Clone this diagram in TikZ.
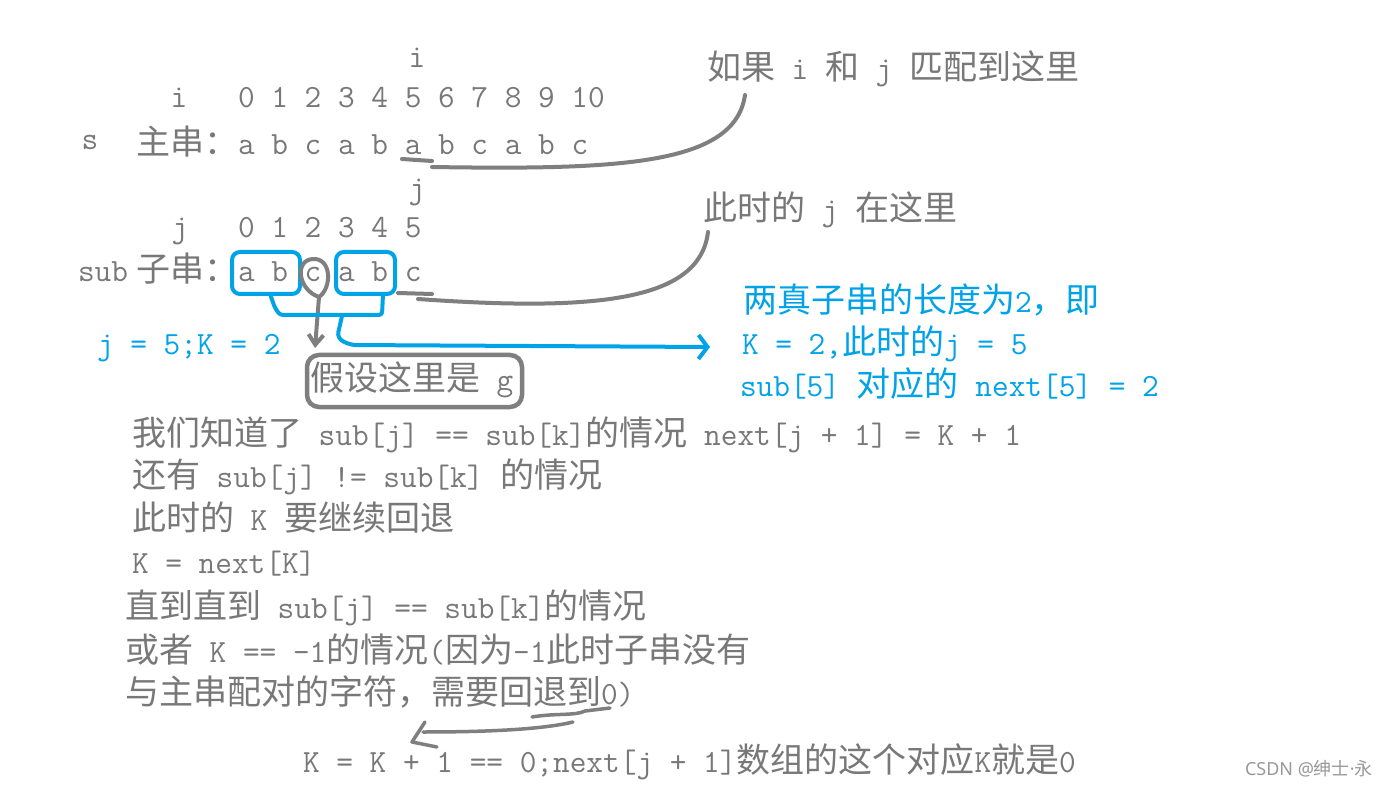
\documentclass[tikz,border=0pt]{standalone}
\usepackage{fontspec}
\usetikzlibrary{arrows.meta}
\newfontfamily\cjkfam{Noto Sans CJK SC}
\newfontfamily\nsans{Noto Sans}
\definecolor{txtgray}{RGB}{120,120,120}
\definecolor{linegray}{RGB}{127,127,127}
\definecolor{pblue}{RGB}{0,162,232}
\newcommand\zh[1]{{\cjkfam\fontsize{34}{40}\selectfont #1}}
\newcommand\latf{\ttfamily\fontsize{32.38}{40}\selectfont\frenchspacing}
\tikzset{
  txt/.style={anchor=base west, inner sep=0pt, outer sep=0pt, text=txtgray, font=\latf},
  btxt/.style={txt, text=pblue},
  gline/.style={draw=linegray, line width=4pt, line cap=round, line join=round},
  bline/.style={draw=pblue, line width=4pt, line cap=round, line join=round},
  bbox/.style={draw=pblue, line width=4pt, rounded corners=8pt, inner sep=0pt, outer sep=0pt},
  gbox/.style={draw=linegray, line width=4.5pt, rounded corners=12pt, inner sep=0pt, outer sep=0pt},
}
\begin{document}
\begin{tikzpicture}[x=1pt,y=-1pt]
\fill[white] (0,0) rectangle (1390,786);
\useasboundingbox (0,0) rectangle (1390,786);

% main string
\node[txt, anchor=base] (itop) at (417,68) {i};
\node[txt, anchor=base] (ilab) at (179,108) {i};
\node[txt] (iidx) at (238,108) {0 1 2 3 4 5 6 7 8 9 10};
\node[txt, anchor=base] (slab) at (90,150) {s};
\node[txt] (srow) at (136,155) {\zh{主串：}a b c a b a b c a b c};

% sub string
\node[txt, anchor=base] (jtop) at (417,199) {j};
\node[txt, anchor=base] (jlab) at (180,238) {j};
\node[txt] (jidx) at (238,238) {0 1 2 3 4 5};
\node[txt] (sublab) at (78,282) {sub};
\node[txt] (subrow) at (136,282) {\zh{子串：}a b c a b c};

% notes
\node[txt] (note1) at (707,80) {\zh{如果} i \zh{和} j \zh{匹配到这里}};
\node[txt] (note2) at (703,221) {\zh{此时的} j \zh{在这里}};
\node[btxt] (b1) at (743,313) {\zh{两真子串的长度为}2\zh{，即}};
\node[btxt] (b2) at (742,355) {K = 2,\zh{此时的}j = 5};
\node[btxt] (b3) at (740,396) {sub[5] \zh{对应的} next[5] = 2};
\node[btxt] (jk) at (97,355) {j = 5;K = 2};

% boxes
\node[bbox, minimum width=68pt, minimum height=42pt] (box1) at (266,273) {};
\node[bbox, minimum width=59pt, minimum height=42pt] (box2) at (365.5,273) {};
\node[gbox, minimum width=215pt, minimum height=52pt] (gbox) at (414.5,381) {};
\node[txt] (gtext) at (310,391) {\zh{假设这里是} g};

% curve 1 : a -> note1
\coordinate (ul1a) at (402,159);
\coordinate (ul1b) at (432,161);
\coordinate (c1s) at (432,167);
\draw[gline] (ul1a) -- (ul1b);
\draw[gline] (c1s) .. controls (620,170) and (735,165) .. ([xshift=38pt,yshift=-15pt]note1.base west);

% curve 2 : c -> note2
\coordinate (ul2a) at (398,293);
\coordinate (ul2b) at (432,294);
\coordinate (c2s) at (418,299);
\draw[gline] (ul2a) -- (ul2b);
\draw[gline] (c2s) .. controls (600,312) and (700,300) .. ([xshift=5pt,yshift=-11pt]note2.base west);

% loop around c -> gbox
\coordinate (cloop) at (319,297);
\draw[gline] (cloop) .. controls (298,290) and (294,260) .. (313,259) .. controls (332,258) and (332,288) .. (cloop);
\draw[gline, -{Straight Barb[length=10pt,width=15pt]}] (cloop) -- ([xshift=8pt,yshift=7pt]gbox.north west);

% blue bracket and arrow
\coordinate (bmid) at (342,316);
\draw[bline, rounded corners=3pt] ([xshift=4pt]box1.south) -- (275,308) -- (280,315) -- (382,315) -- ([xshift=17.5pt]box2.south);
\draw[bline, rounded corners=6pt, -{Straight Barb[length=9pt,width=24pt]}] (bmid) -- (337,338) -- (350,345) -- ([xshift=-32pt,yshift=8pt]b2.base west);

% explanation lines
\node[txt] (l1) at (132,445) {\zh{我们知道了} sub[j] == sub[k]\zh{的情况} next[j + 1] = K + 1};
\node[txt] (l2) at (132,487) {\zh{还有} sub[j] != sub[k] \zh{的情况}};
\node[txt] (l3) at (132,530) {\zh{此时的} K \zh{要继续回退}};
\node[txt] (l4) at (132,573) {K = next[K]};
\node[txt] (l5) at (125,618) {\zh{直到直到} sub[j] == sub[k]\zh{的情况}};
\node[txt] (l6) at (125,662) {\zh{或者} K == -1\zh{的情况}(\zh{因为}-1\zh{此时子串没有}};
\node[txt] (l7) at (125,704) {\zh{与主串配对的字符，需要回退到}0)};
\node[txt] (l8) at (303,772) {K = K + 1 == 0;next[j + 1]\zh{数组的这个对应}K\zh{就是}0};

% underline and arrow at bottom
\coordinate (w1) at (532,717);
\coordinate (w2) at (610,708);
\draw[gline, line width=3.5pt] (w1) .. controls (555,713) and (575,716) .. (585,711) -- (w2);
\coordinate (a1) at (573,722);
\coordinate (a2) at (423,732);
\draw[gline, line width=3.5pt] (a1) .. controls (540,730) and (480,732) .. (a2);
\draw[gline, line width=3.5pt] (425,722) -- (412,742) -- (437,747);

% watermark
\node[anchor=base east, inner sep=0pt, text=black!40, font=\nsans\fontsize{18}{20}\selectfont] (wm) at (1373,775) {CSDN @{\cjkfam 绅士}·{\cjkfam 永}};
\end{tikzpicture}
\end{document}
